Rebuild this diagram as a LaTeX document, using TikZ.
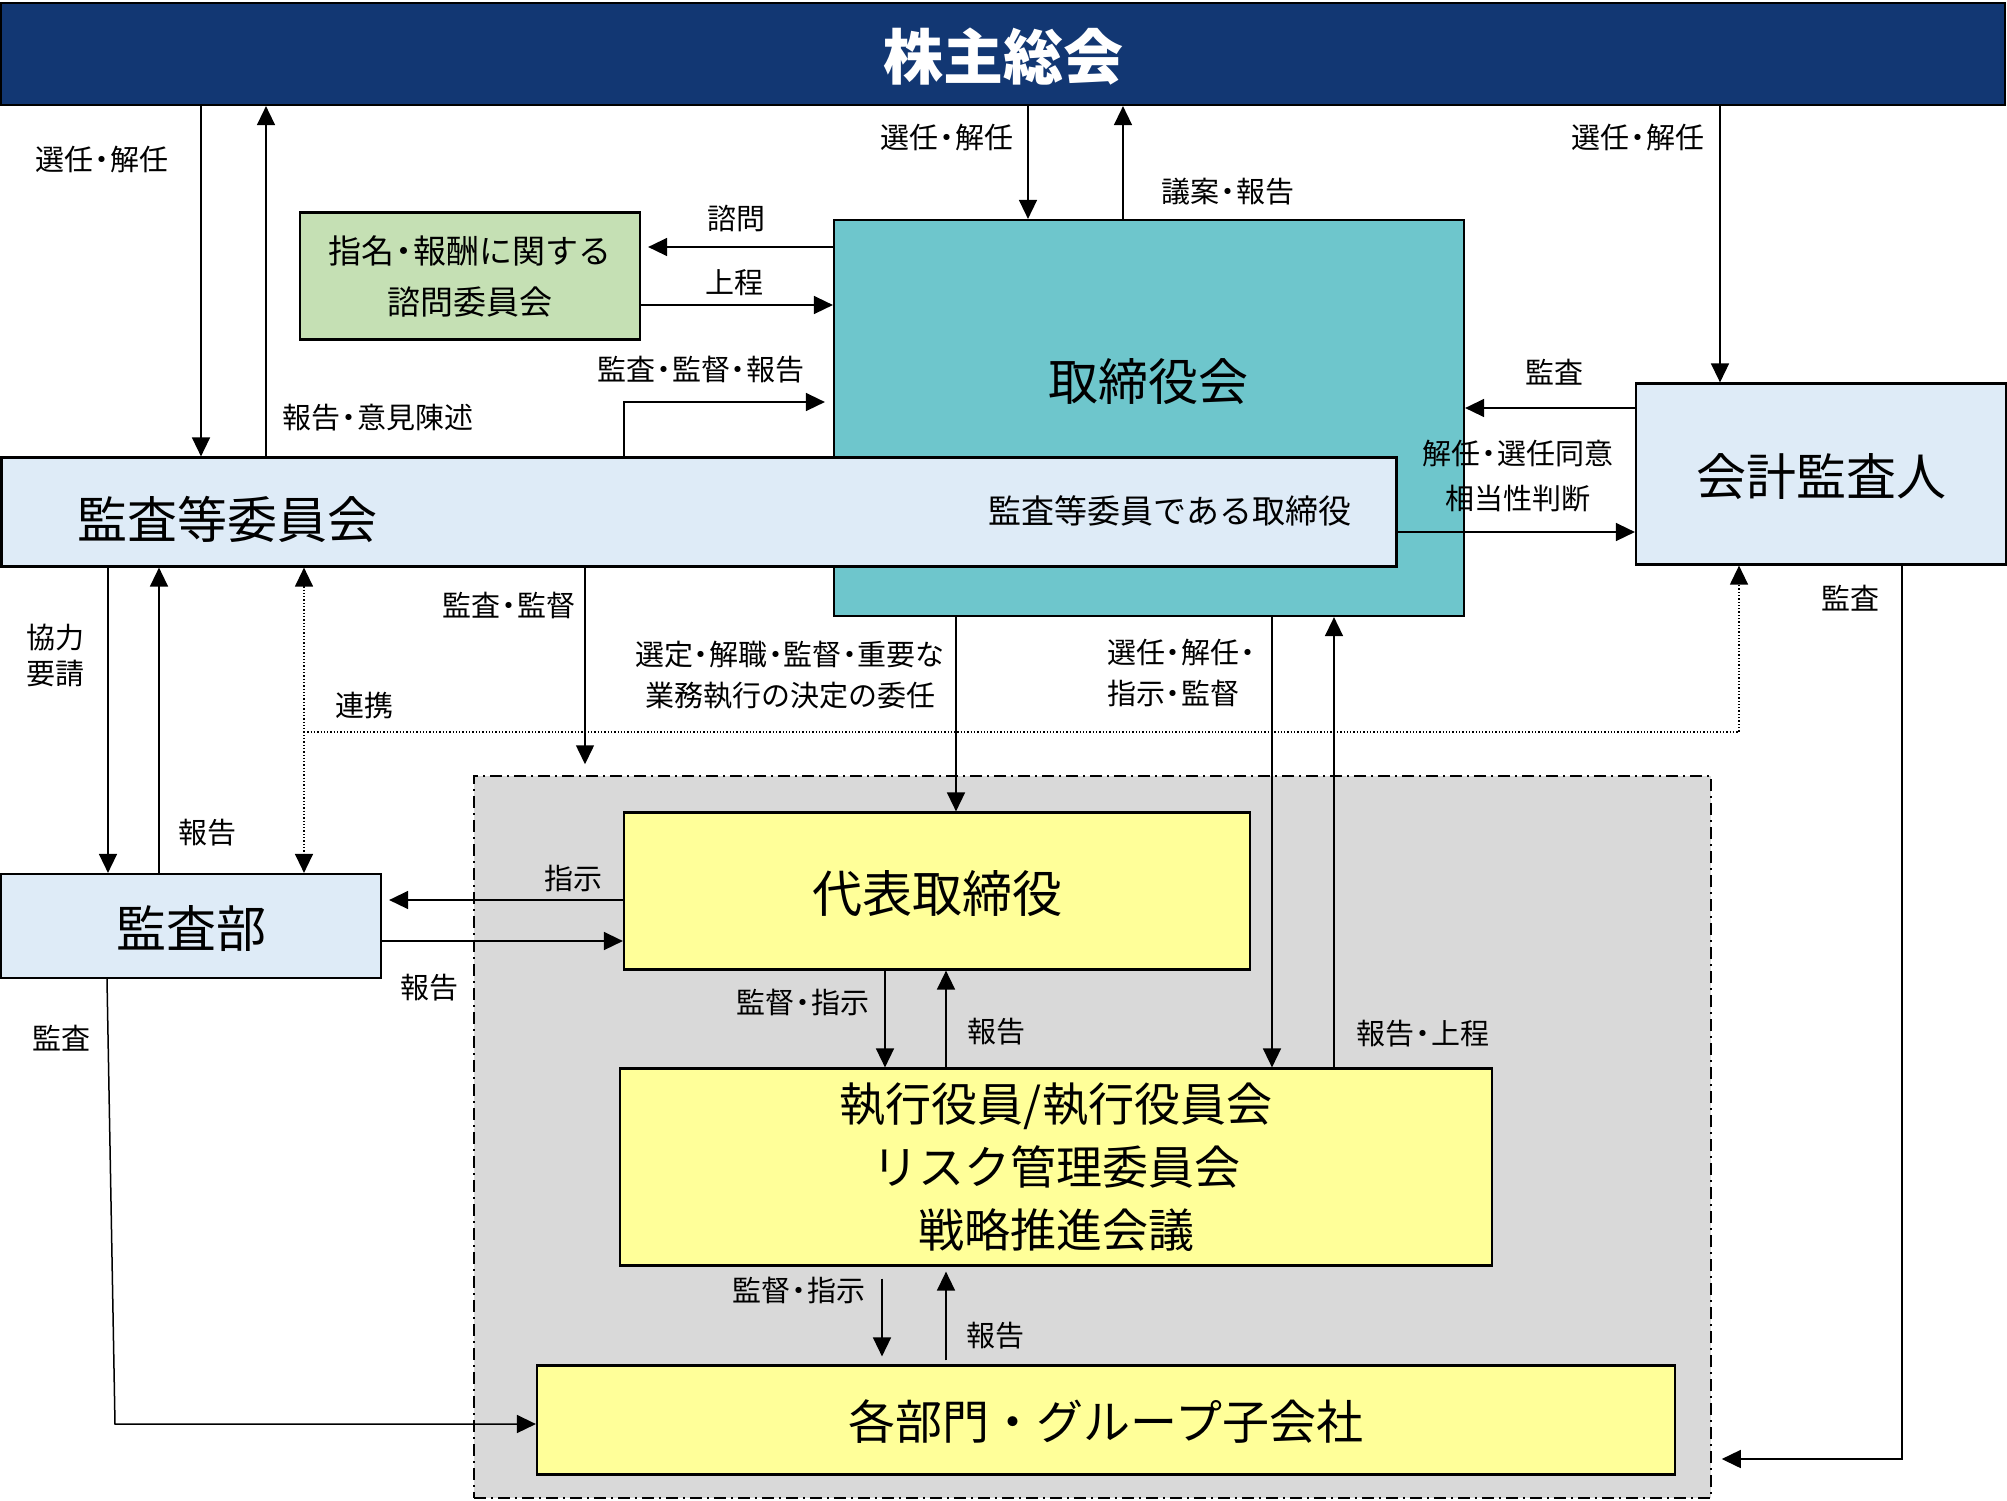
\documentclass[tikz,border=0pt]{standalone}
\usepackage{fontspec}
\setmainfont{Noto Sans CJK JP}
\usepackage{tikz}
\usetikzlibrary{arrows.meta,positioning}
\definecolor{agmnavy}{HTML}{123773}
\definecolor{boardteal}{HTML}{6EC6CC}
\definecolor{paleblue}{HTML}{DEEBF7}
\definecolor{palegreen}{HTML}{C5E0B4}
\definecolor{paleyellow}{HTML}{FFFF99}
\definecolor{areagray}{HTML}{D9D9D9}
\newcommand{\dt}{\hspace{-0.22em}・\hspace{-0.22em}}

\begin{document}
\begin{tikzpicture}[x=1pt,y=-1pt,
  box/.style={draw=black,line width=2.2pt,inner sep=0pt,align=center},
  big/.style={inner sep=0pt,text depth=0pt,font=\fontsize{50}{60}\selectfont},
  lbl/.style={inner sep=0pt,align=center,font=\fontsize{29}{41}\selectfont},
  arrow/.style={-{Triangle[length=19pt,width=18pt]},line width=1.5pt},
  twoway/.style={{Triangle[length=19pt,width=18pt]}-{Triangle[length=19pt,width=18pt]},line width=1.3pt,dotted}
]
\useasboundingbox (0,0) rectangle (2007,1500);
\node[box,fill=agmnavy,minimum width=2004pt,minimum height=102pt,text=white,text depth=0pt,font=\bfseries\fontsize{60}{70}\selectfont] (agm) at (1003,54) {株主総会};
\node[box,fill=palegreen,minimum width=340pt,minimum height=127pt,font=\fontsize{33}{51}\selectfont] (nomcom) at (470,276) {指名\dt 報酬に関する\\諮問委員会};
\node[box,fill=boardteal,minimum width=630pt,minimum height=396pt] (board) at (1149,418) {};
\node[big] (boardtxt) at (1148,379) {取締役会};
\node[box,fill=paleblue,minimum width=1395pt,minimum height=109pt] (auditcom) at (699,512) {};
\node[big,anchor=west] (auditcomtxt) at (77,517) {監査等委員会};
\node[inner sep=0pt,font=\fontsize{33}{40}\selectfont] (auditdir) at (1170,511) {監査等委員である取締役};
\node[box,big,fill=paleblue,minimum width=370pt,minimum height=181pt] (extaud) at (1821,474) {会計監査人};
\node[draw,fill=areagray,line width=1.5pt,dash pattern=on 12pt off 5pt on 2pt off 5pt,minimum width=1237pt,minimum height=722pt,inner sep=0pt] (execarea) at (1092.5,1137) {};
\node[box,big,fill=paleyellow,minimum width=626pt,minimum height=157pt] (ceo) at (937,891) {代表取締役};
\node[box,fill=paleyellow,minimum width=872pt,minimum height=197pt,font=\fontsize{46}{63}\selectfont] (officers) at (1056,1167) {執行役員/執行役員会\\リスク管理委員会\\戦略推進会議};
\node[box,fill=paleyellow,minimum width=1138pt,minimum height=109pt,text depth=0pt,font=\fontsize{47}{56}\selectfont] (units) at (1106,1420) {各部門・グループ子会社};
\node[box,big,fill=paleblue,minimum width=380pt,minimum height=104pt] (auditdept) at (191,926) {監査部};
\coordinate (linkjoin) at (304,732);
\coordinate (auditbend) at (115,1424);

\draw[arrow] (agm.south -| 201,0) -- (auditcom.north -| 201,0);
\draw[arrow] (auditcom.north -| 266,0) -- (agm.south -| 266,0);
\draw[arrow] (agm.south -| 1028,0) -- (board.north -| 1028,0);
\draw[arrow] (board.north -| 1123,0) -- (agm.south -| 1123,0);
\draw[arrow] (agm.south -| 1720,0) -- (extaud.north -| 1720,0);
\draw[arrow,shorten >=7pt] (board.west |- 0,247) -- (nomcom.east |- 0,247);
\draw[arrow] (nomcom.east |- 0,305) -- (board.west |- 0,305);
\draw[arrow,shorten >=8pt] (auditcom.north -| 624,0) |- (board.west |- 0,402);
\draw[arrow] (extaud.west |- 0,408) -- (board.east |- 0,408);
\draw[arrow] (auditcom.east |- 0,532) -- (extaud.west |- 0,532);
\draw[arrow,shorten >=10pt] (extaud.south -| 1902,0) |- (execarea.east |- 0,1459);
\draw[arrow] (auditcom.south -| 108,0) -- (auditdept.north -| 108,0);
\draw[arrow] (auditdept.north -| 159,0) -- (auditcom.south -| 159,0);
\draw[twoway] (auditcom.south -| 304,0) -- (auditdept.north -| 304,0);
\draw[arrow,line width=1.3pt,dotted] (linkjoin) -| (extaud.south -| 1739,0);
\draw[arrow,shorten >=11pt] (auditcom.south -| 585,0) -- (execarea.north -| 585,0);
\draw[arrow] (board.south -| 956,0) -- (ceo.north -| 956,0);
\draw[arrow] (board.south -| 1272,0) -- (officers.north -| 1272,0);
\draw[arrow] (officers.north -| 1334,0) -- (board.south -| 1334,0);
\draw[arrow,shorten >=7pt] (ceo.west |- 0,900) -- (auditdept.east |- 0,900);
\draw[arrow] (auditdept.east |- 0,941) -- (ceo.west |- 0,941);
\draw[arrow] (ceo.south -| 885,0) -- (officers.north -| 885,0);
\draw[arrow] (officers.north -| 946,0) -- (ceo.south -| 946,0);
\draw[arrow,shorten <=12pt,shorten >=8pt] (officers.south -| 882,0) -- (units.north -| 882,0);
\draw[arrow,shorten <=4pt,shorten >=5pt] (units.north -| 946,0) -- (officers.south -| 946,0);
\draw[arrow] (auditdept.south -| 107,0) -- (auditbend) -- (units.west |- auditbend);

\node[lbl] (l1) at (102,159) {選任\dt 解任};
\node[lbl] (l2) at (378,418) {報告\dt 意見陳述};
\node[lbl] (l3) at (947,137) {選任\dt 解任};
\node[lbl] (l4) at (1228,192) {議案\dt 報告};
\node[lbl] (l5) at (1638,137) {選任\dt 解任};
\node[lbl] (l6) at (736,219) {諮問};
\node[lbl] (l7) at (734,283) {上程};
\node[lbl] (l8) at (701,370) {監査\dt 監督\dt 報告};
\node[lbl] (l9) at (1554,372) {監査};
\node[lbl,font=\fontsize{29}{45}\selectfont] (l10) at (1518,476) {解任\dt 選任同意\\相当性判断};
\node[lbl] (l11) at (1850,598) {監査};
\node[lbl,font=\fontsize{29}{36}\selectfont] (l12) at (56,655) {協力\\要請};
\node[lbl] (l13) at (207,833) {報告};
\node[lbl] (l14) at (364,705) {連携};
\node[lbl] (l15) at (509,605) {監査\dt 監督};
\node[lbl] (l16) at (790,675) {選定\dt 解職\dt 監督\dt 重要な\\業務執行の決定の委任};
\node[lbl,align=left,anchor=west] (l17) at (1107,673) {選任\dt 解任\dt\\指示\dt 監督};
\node[lbl] (l18) at (1423,1034) {報告\dt 上程};
\node[lbl] (l19) at (573,878) {指示};
\node[lbl] (l20) at (429,988) {報告};
\node[lbl] (l21) at (803,1002) {監督\dt 指示};
\node[lbl] (l22) at (996,1032) {報告};
\node[lbl] (l23) at (799,1290) {監督\dt 指示};
\node[lbl] (l24) at (995,1336) {報告};
\node[lbl] (l25) at (61,1038) {監査};
\end{tikzpicture}
\end{document}
